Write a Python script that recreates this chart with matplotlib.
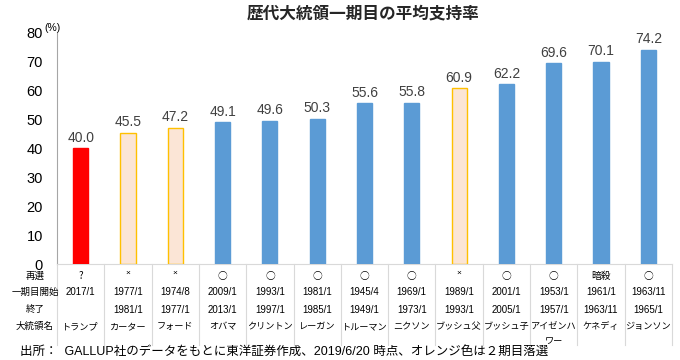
import numpy as np
import matplotlib
matplotlib.use("Agg")
import matplotlib.pyplot as plt

plt.rcParams["font.family"] = ["Liberation Sans", "Noto Sans CJK JP", "DejaVu Sans"]

# =========================
# データ
# =========================
names = ["トランプ", "カーター", "フォード", "オバマ", "クリントン", "レーガン", "トルーマン",
         "ニクソン", "ブッシュ父", "ブッシュ子", "アイゼンハ\nワー", "ケネディ", "ジョンソン"]
approval = [40.0, 45.5, 47.2, 49.1, 49.6, 50.3, 55.6, 55.8, 60.9, 62.2, 69.6, 70.1, 74.2]
reelect = ["?", "×", "×", "○", "○", "○", "○", "○", "×", "○", "○", "暗殺", "○"]
start = ["2017/1", "1977/1", "1974/8", "2009/1", "1993/1", "1981/1", "1945/4",
         "1969/1", "1989/1", "2001/1", "1953/1", "1961/1", "1963/11"]
end = ["", "1981/1", "1977/1", "2013/1", "1997/1", "1985/1", "1949/1",
       "1973/1", "1993/1", "2005/1", "1957/1", "1963/11", "1965/1"]
row_labels = ["再選", "一期目開始", "終了", "大統領名"]
yticks = [0, 10, 20, 30, 40, 50, 60, 70, 80]

CJK = ["Noto Sans CJK JP", "DejaVu Sans"]

# 色: トランプ=赤、2期目落選=オレンジ枠、その他=青
face = []
edge = []
for r in reelect:
    if r == "?":
        face.append("#FF0000"); edge.append("#FF0000")
    elif r == "×":
        face.append("#FBE5D6"); edge.append("#FFC000")
    else:
        face.append("#5B9BD5"); edge.append("#5B9BD5")

fig = plt.figure(figsize=(6.8, 3.6), dpi=100)
ax = fig.add_axes([57 / 680, 1 - 264 / 360, 615 / 680, 231 / 360])

x = np.arange(len(approval))
ax.bar(x, approval, width=0.32, color=face, edgecolor=edge, linewidth=1.0, zorder=3)

for xi, v in zip(x, approval):
    ax.text(xi, v + 1.2, f"{v:.1f}", ha="center", va="bottom", fontsize=10, color="#404040")

ax.set_xlim(-0.5, len(approval) - 0.5)
ax.set_ylim(0, 80)
ax.set_yticks(yticks)
ax.set_yticklabels([str(t) for t in yticks], fontsize=10.5)
ax.tick_params(axis="y", length=0, pad=10)
ax.set_xticks([])
for s in ["top", "right"]:
    ax.spines[s].set_visible(False)
ax.spines["left"].set_color("#A6A6A6")
ax.spines["bottom"].set_color("#D9D9D9")

ax.text(-0.02, 1.0, "(%)", transform=ax.transAxes, fontsize=7.5, ha="left", va="bottom")

# タイトル
fig.text(363 / 680, 1 - 13 / 360, "歴代大統領一期目の平均支持率", fontsize=12, fontweight="bold",
         family=CJK, ha="center", va="center", color="#262626")

# =========================
# 下の表
# =========================
tr = ax.get_xaxis_transform()
row_y = [-0.052, -0.123, -0.197, -0.27]
line_step = 0.064
for xi in range(len(approval)):
    if reelect[xi] == "×":
        ax.text(xi, row_y[0] + 0.01, reelect[xi], transform=tr, ha="center", va="center", fontsize=6)
    else:
        ax.text(xi, row_y[0], reelect[xi], transform=tr, ha="center", va="center",
                fontsize=7, family=CJK)
    ax.text(xi, row_y[1], start[xi], transform=tr, ha="center", va="center", fontsize=7)
    ax.text(xi, row_y[2], end[xi], transform=tr, ha="center", va="center", fontsize=7)
    for k, part in enumerate(names[xi].split("\n")):
        ax.text(xi, row_y[3] - k * line_step, part, transform=tr, ha="center", va="center",
                fontsize=6.6, family=CJK)
for b in np.arange(-0.5, len(approval), 1.0):
    ax.plot([b, b], [0, -0.35], transform=tr, color="#D9D9D9", lw=0.8, clip_on=False)

pos = ax.get_position()
for lab, ry in zip(row_labels, row_y):
    fig.text(35 / 680, pos.y0 + ry * pos.height, lab,
             ha="center", va="center", fontsize=6.8, family=CJK)

# 出所
fig.text(20 / 680, 1 - 352 / 360, "出所：  GALLUP社のデータをもとに東洋証券作成、2019/6/20 時点、オレンジ色は２期目落選",
         ha="left", va="center", fontsize=9)

fig.savefig("out.png", dpi=100)
